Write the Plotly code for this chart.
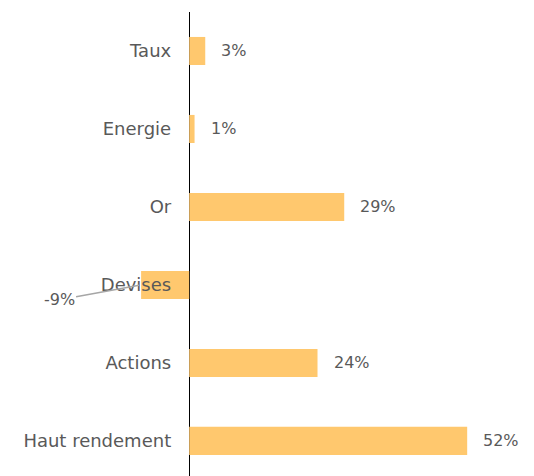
import plotly.graph_objects as go

# asset class performance
categories = ['Taux', 'Energie', 'Or', 'Devises', 'Actions', 'Haut rendement']
values = [3, 1, 29, -9, 24, 52]

barColor = '#FFC86E'
textColor = '#595959'

# page has an 8px body margin, so the figure is a bit smaller than the window
xmin, xmax = -33.9, 64.5
axisPos = (0 - xmin) / (xmax - xmin)

fig = go.Figure()
fig.add_trace(go.Bar(
    y=categories, x=values, orientation='h',
    marker=dict(color=barColor, line=dict(width=0)),
    hoverinfo='skip',
))

#value labels
for cat, v in zip(categories, values):
    if v >= 0:
        fig.add_annotation(x=v, y=cat, text=f"{v}%", showarrow=False,
                           xanchor='left', xshift=14,
                           font=dict(size=16, color=textColor))
    else:
        fig.add_annotation(x=v, y=cat, text=f"{v}%", showarrow=True,
                           arrowhead=0, arrowwidth=1.5, arrowcolor='#A6A6A6',
                           ax=-82, ay=15, standoff=2,
                           font=dict(size=16, color=textColor))

fig.update_layout(
    width=526, height=468,
    margin=dict(l=0, r=0, t=4, b=0, autoexpand=False),
    plot_bgcolor='white', paper_bgcolor='white',
    bargap=0.64,
    showlegend=False,
    font=dict(family='DejaVu Sans', size=18, color=textColor),
)
fig.update_xaxes(range=[xmin, xmax], showgrid=False, showticklabels=False,
                 zeroline=True, zerolinecolor='black', zerolinewidth=1.2)
fig.update_yaxes(range=[5.45, -0.5], anchor='free', position=axisPos,
                 showgrid=False, showline=False, ticks='',
                 ticklabelstandoff=18)

fig.write_html("out.html")
